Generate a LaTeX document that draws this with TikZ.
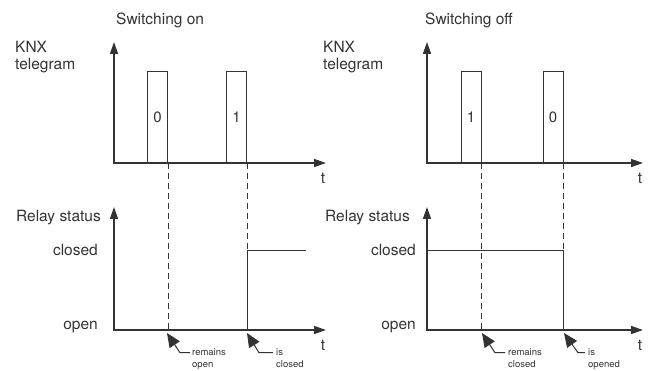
\documentclass[tikz,border=0pt]{standalone}
\usepackage{fontspec}
\setmainfont{TeX Gyre Heros}
\usetikzlibrary{arrows.meta, positioning}
\definecolor{ink}{gray}{0.2}
\tikzstyle{axis} = [line width=1.5pt, draw=ink, {Triangle[length=12pt, width=8pt]}-{Triangle[length=12pt, width=8pt]}]
\tikzstyle{pulse} = [rectangle, draw=ink, line width=0.8pt, minimum width=20pt, minimum height=91pt, inner sep=0pt, anchor=south, text=ink, font=\fontsize{15}{18}\selectfont]
\tikzstyle{level} = [line width=0.8pt, draw=ink]
\tikzstyle{guide} = [line width=0.8pt, draw=ink, dash pattern=on 6pt off 4pt]
\tikzstyle{label} = [font=\fontsize{15.5}{17}\selectfont, text=ink, inner sep=0pt]
\tikzstyle{note} = [font=\fontsize{9.5}{12}\selectfont, text=ink, inner sep=0pt, anchor=base west]
\tikzstyle{pointer} = [line width=1pt, draw=ink, -{Triangle[length=14pt, width=12pt]}]

\begin{document}
\begin{tikzpicture}[x=1pt, y=-1pt]
\useasboundingbox (0,0) rectangle (649,371);

\coordinate (on-o) at (114,163);
\coordinate (on-y) at (114,42);
\coordinate (on-x) at (326,163);
\coordinate (onr-o) at (114,330);
\coordinate (onr-y) at (114,207);
\coordinate (onr-x) at (326,330);
\coordinate (on-c) at (306,250);
\coordinate (on-a1) at (167,333);
\coordinate (on-a2) at (247,333);

\node (on-title) [label, anchor=west] at (116,20) {Switching on};
\node (on-knx) [label, anchor=west, align=left] at (15,57) {KNX\\telegram};
\node (on-t) [label] at (323,178) {t};
\node (on-relay) [label, anchor=east] at (101,218) {Relay status};
\node (on-closed) [label, anchor=east] at (98,250) {closed};
\node (on-open) [label, anchor=east] at (98,327) {open};
\node (onr-t) [label] at (323,345) {t};
\node (on-p0) [pulse] at (157.5,163) {0};
\node (on-p1) [pulse] at (236.5,163) {1};
\node (on-n1) [note] at (192,356) {remains};
\node (on-n1b) [note] at (192,368) {open};
\node (on-n2) [note] at (276,356) {is};
\node (on-n2b) [note] at (276,368) {closed};

\draw [axis] (on-y) -- (on-o) -- (on-x);
\draw [axis] (onr-y) -- (onr-o) -- (onr-x);
\draw [guide] (on-p0.south east) -- (on-p0.south east |- onr-o);
\draw [guide] (on-p1.south east) -- (on-p1.south east |- on-c);
\draw [level] (on-c) -- (on-p1.south east |- on-c) -- (on-p1.south east |- onr-o);
\draw [pointer] ([xshift=-2pt]on-n1.west) -- ++(-10,0) -- (on-a1);
\draw [pointer] ([xshift=-3pt]on-n2.west) -- ++(-14,0) -- (on-a2);

\coordinate (off-o) at (427,163);
\coordinate (off-y) at (427,42);
\coordinate (off-x) at (643,163);
\coordinate (offr-o) at (427,330);
\coordinate (offr-y) at (427,207);
\coordinate (offr-x) at (643,330);
\coordinate (off-c) at (427,250);
\coordinate (off-a1) at (482,333);
\coordinate (off-a2) at (564,333);

\node (off-title) [label, anchor=west] at (425,20) {Switching off};
\node (off-knx) [label, anchor=west, align=left] at (323,57) {KNX\\telegram};
\node (off-t) [label] at (640,178) {t};
\node (off-relay) [label, anchor=east] at (410,218) {Relay status};
\node (off-closed) [label, anchor=east] at (416,250) {closed};
\node (off-open) [label, anchor=east] at (416,327) {open};
\node (offr-t) [label] at (640,345) {t};
\node (off-p1) [pulse] at (471,163) {1};
\node (off-p0) [pulse] at (553,163) {0};
\node (off-n1) [note] at (508,356) {remains};
\node (off-n1b) [note] at (508,368) {closed};
\node (off-n2) [note] at (588,356) {is};
\node (off-n2b) [note] at (588,368) {opened};

\draw [axis] (off-y) -- (off-o) -- (off-x);
\draw [axis] (offr-y) -- (offr-o) -- (offr-x);
\draw [guide] (off-p1.south east) -- (off-p1.south east |- offr-o);
\draw [guide] (off-p0.south east) -- (off-p0.south east |- off-c);
\draw [level] (off-c) -- (off-p0.south east |- off-c) -- (off-p0.south east |- offr-o);
\draw [pointer] ([xshift=-3pt]off-n1.west) -- ++(-10,0) -- (off-a1);
\draw [pointer] ([xshift=-3pt]off-n2.west) -- ++(-7,0) -- (off-a2);

\end{tikzpicture}
\end{document}
